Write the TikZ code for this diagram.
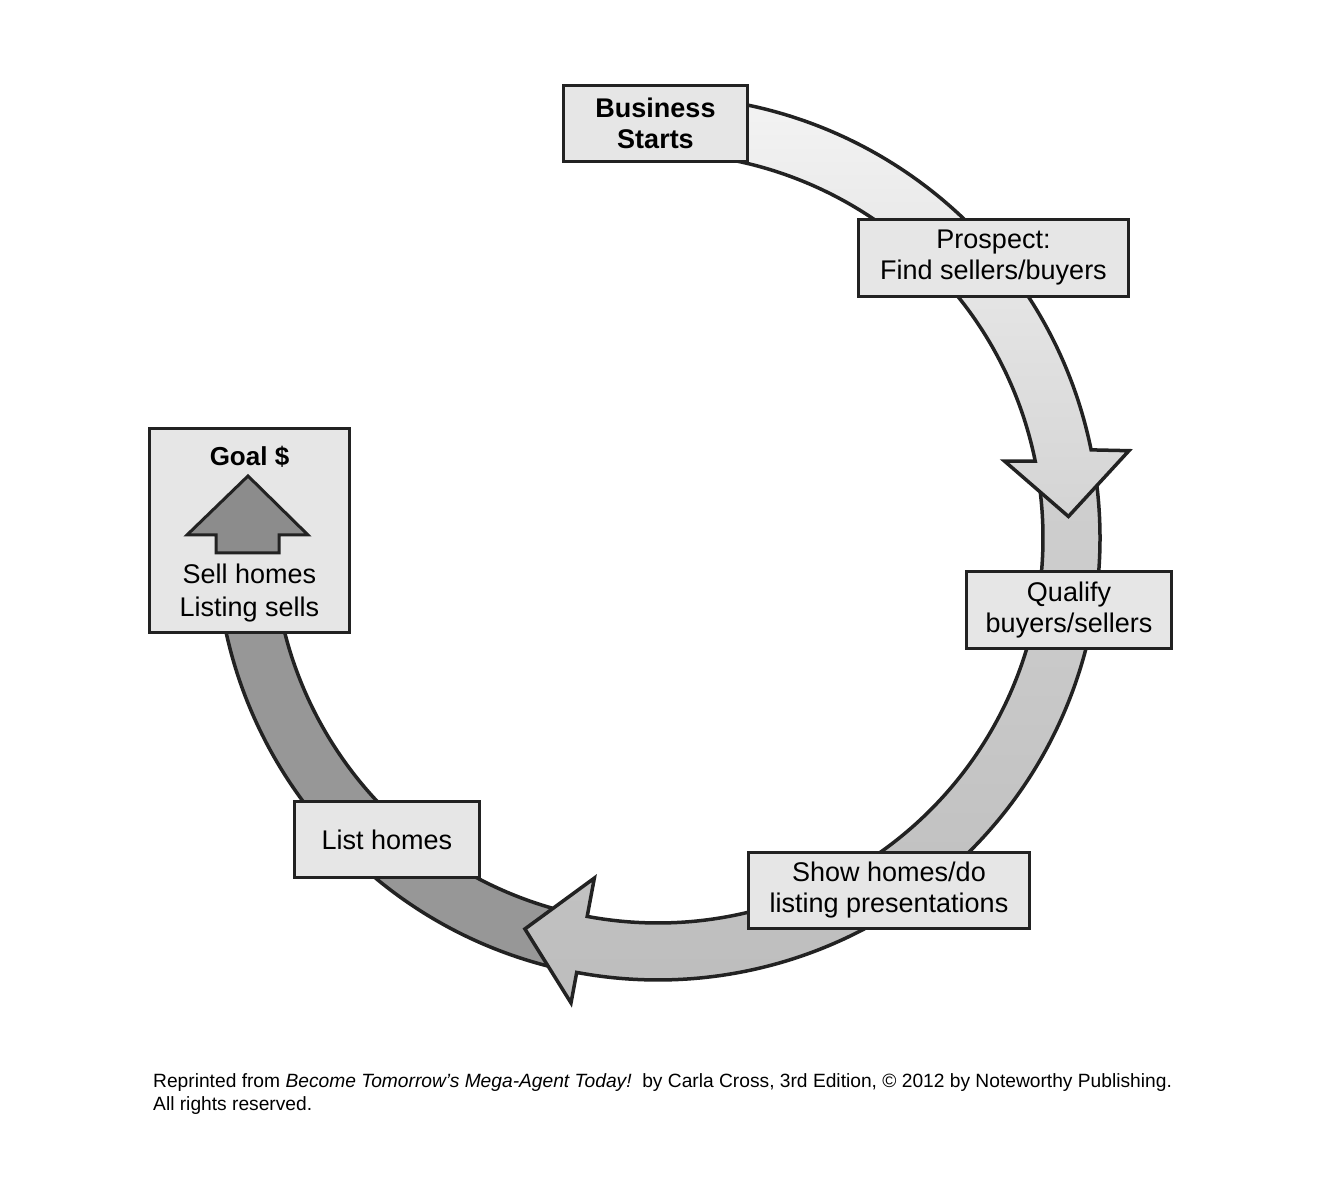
\documentclass[tikz,border=0pt]{standalone}
\usepackage{fontspec}
\setmainfont{Liberation Sans}
\usetikzlibrary{calc}
\definecolor{boxfill}{HTML}{E6E6E6}
\definecolor{ink}{HTML}{222222}
\definecolor{bandA1}{HTML}{F6F6F6}
\definecolor{bandA2}{HTML}{D4D4D4}
\definecolor{bandB1}{HTML}{CFCFCF}
\definecolor{bandB2}{HTML}{BDBDBD}
\definecolor{bandC}{HTML}{979797}
\definecolor{goalarrow}{HTML}{8C8C8C}
\tikzset{
  stagebox/.style={draw=ink, line width=3pt, fill=boxfill, align=center,
    font=\fontsize{27}{31}\selectfont, inner sep=0pt},
  bandline/.style={draw=ink, line width=3.5pt, line join=miter},
}
\begin{document}
\begin{tikzpicture}[x=1pt,y=1pt]
\useasboundingbox[fill=white] (0,0) rectangle (1326,1177);
\coordinate (O) at (658,639);
% segment C (dark) from List homes up to Goal
\path[bandline, fill=bandC]
  ($(O)+(-104:442)$) arc[start angle=-104, end angle=-190, radius=442]
  -- ($(O)+(-190:385)$) arc[start angle=-190, end angle=-104, radius=385] -- cycle;
% segment B with head
\path[bandline, top color=bandB1, bottom color=bandB2]
  ($(O)+(8:442)$) arc[start angle=8, end angle=-100.6, radius=442]
  -- ($(O)+(-100.6:473)$) -- ($(O)+(-108.8:413)$) -- ($(O)+(-100.6:346)$)
  -- ($(O)+(-100.6:385)$) arc[start angle=-100.6, end angle=8, radius=385] -- cycle;
% segment A with head
\path[bandline, top color=bandA1, bottom color=bandA2]
  ($(O)+(100:442)$) arc[start angle=100, end angle=11.5, radius=442]
  -- ($(O)+(10.5:479)$) -- ($(O)+(3:411)$) -- ($(O)+(12.5:355)$)
  -- ($(O)+(11.5:385)$) arc[start angle=11.5, end angle=100, radius=385] -- cycle;
% stage boxes
\node[stagebox, minimum width=184pt, minimum height=76pt, font=\fontsize{27}{31}\selectfont\bfseries]
  (bs) at (655.5,1053.5) {Business\\Starts};
\node[stagebox, minimum width=270pt, minimum height=77pt] (pr) at (993.5,919) {Prospect:\\Find sellers/buyers};
\node[stagebox, minimum width=205pt, minimum height=77pt] (qu) at (1069,567) {Qualify\\buyers/sellers};
\node[stagebox, minimum width=281pt, minimum height=76pt] (sh) at (889,286.5) {Show homes/do\\listing presentations};
\node[stagebox, minimum width=185pt, minimum height=76pt] (li) at (387,337.5) {List homes};
\node[stagebox, minimum width=200pt, minimum height=204pt] (goal) at (249.5,646.5) {};
\node[font=\fontsize{26}{31}\selectfont\bfseries] (goalt) at (249.5,720) {Goal \$};
\draw[line width=3pt, draw=ink, fill=goalarrow, line join=miter]
  (248,701) -- (187,642) -- (216,642) -- (216,624) -- (279,624) -- (279,642) -- (308,642) -- cycle;
\node[align=center, font=\fontsize{27}{33}\selectfont] (sellt) at (249.5,583.5) {Sell homes\\Listing sells};
% footer
\node[anchor=north west, align=left, inner sep=0pt, font=\fontsize{19.2}{23}\selectfont]
  (footer) at (153,104) {Reprinted from \textit{Become Tomorrow's Mega-Agent Today!}\ \ by Carla Cross, 3rd Edition, © 2012 by Noteworthy Publishing.\\All rights reserved.};
\end{tikzpicture}
\end{document}
